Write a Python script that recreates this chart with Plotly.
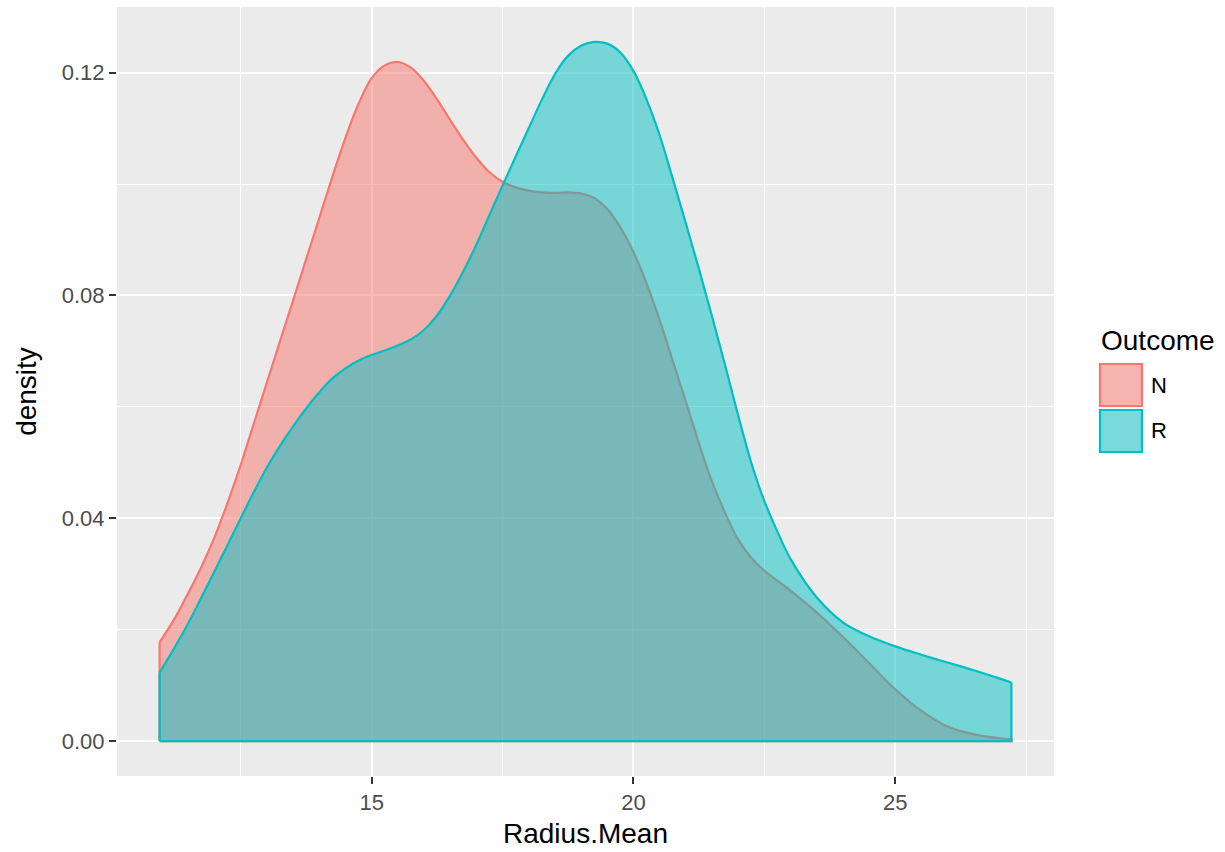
import plotly.graph_objects as go

# Kernel density estimates of Radius.Mean, one curve per outcome group
outcomes = ["N", "R"]
line_colors = ["#F8766D", "#00BFC4"]
fill_colors = ["rgba(248,118,109,0.5)", "rgba(0,191,196,0.5)"]

radius_n = [10.95, 11.25, 11.5, 11.75, 12.0, 12.25, 12.5, 12.75, 13.0, 13.25,
            13.5, 13.75, 14.0, 14.25, 14.5, 14.75, 15.0, 15.25, 15.5, 15.75,
            16.0, 16.25, 16.5, 16.75, 17.0, 17.25, 17.5, 17.75, 18.0, 18.25,
            18.5, 18.75, 19.0, 19.25, 19.5, 19.75, 20.0, 20.25, 20.5, 20.75,
            21.0, 21.25, 21.5, 21.75, 22.0, 22.25, 22.5, 23.0, 23.5, 24.0,
            24.5, 25.0, 25.5, 26.0, 26.5, 27.0, 27.22]
density_n = [0.0177, 0.0222, 0.0266, 0.0313, 0.0366, 0.0428, 0.0496, 0.0570, 0.0644, 0.0718,
             0.0791, 0.0865, 0.0939, 0.1013, 0.1083, 0.1144, 0.1190, 0.1213, 0.1219, 0.1209,
             0.1185, 0.1152, 0.1115, 0.1079, 0.1047, 0.1021, 0.1004, 0.0994, 0.0988, 0.0985,
             0.0984, 0.0985, 0.0983, 0.0975, 0.0955, 0.0922, 0.0878, 0.0822, 0.0756, 0.0683,
             0.0610, 0.0535, 0.0466, 0.0410, 0.0362, 0.0329, 0.0306, 0.0270, 0.0231, 0.0187,
             0.0140, 0.0093, 0.0054, 0.0026, 0.0012, 0.0005, 0.0003]

radius_r = [10.95, 11.25, 11.5, 11.75, 12.0, 12.25, 12.5, 12.75, 13.0, 13.25,
            13.5, 13.75, 14.0, 14.25, 14.5, 14.75, 15.0, 15.25, 15.5, 15.75,
            16.0, 16.25, 16.5, 16.75, 17.0, 17.25, 17.5, 17.75, 18.0, 18.25,
            18.5, 18.75, 19.0, 19.25, 19.5, 19.75, 20.0, 20.25, 20.5, 20.75,
            21.0, 21.25, 21.5, 21.75, 22.0, 22.25, 22.5, 22.75, 23.0, 23.5,
            24.0, 24.5, 25.0, 25.5, 26.0, 26.5, 27.0, 27.22]
density_r = [0.0123, 0.0170, 0.0212, 0.0258, 0.0305, 0.0352, 0.0400, 0.0447, 0.0491, 0.0530,
             0.0565, 0.0597, 0.0626, 0.0651, 0.0669, 0.0683, 0.0693, 0.0701, 0.0710, 0.0721,
             0.0738, 0.0764, 0.0800, 0.0843, 0.0891, 0.0944, 0.0997, 0.1049, 0.1100, 0.1151,
             0.1197, 0.1230, 0.1248, 0.1255, 0.1252, 0.1236, 0.1203, 0.1152, 0.1088, 0.1010,
             0.0930, 0.0848, 0.0763, 0.0675, 0.0585, 0.0500, 0.0431, 0.0376, 0.0327, 0.0258,
             0.0213, 0.0188, 0.0170, 0.0155, 0.0141, 0.0127, 0.0112, 0.0105]

x_major = [15, 20, 25]
x_minor = [12.5, 17.5, 22.5, 27.5]
y_major = [0.00, 0.04, 0.08, 0.12]
y_minor = [0.02, 0.06, 0.10]

series = [(radius_n, density_n), (radius_r, density_r)]

W, H = 1225, 852
ML, MR, MT, MB = 117, 171, 7, 76
PW, PH = W - ML - MR, H - MT - MB

fig = go.Figure()
for name, (xs, ys), lc, fc in zip(outcomes, series, line_colors, fill_colors):
    # smooth density curve with area fill down to zero
    fig.add_trace(go.Scatter(
        x=xs, y=ys, mode="lines", name=name, showlegend=False,
        line=dict(color=lc, width=2.2, shape="spline", smoothing=1.0),
        fill="tozeroy", fillcolor=fc, hoverinfo="skip",
    ))
    # closing edges of the density polygon: both vertical ends and the baseline
    fig.add_trace(go.Scatter(
        x=[xs[0], xs[0], None, xs[-1], xs[-1], xs[0]],
        y=[0, ys[0], None, ys[-1], 0, 0],
        mode="lines", showlegend=False, hoverinfo="skip",
        line=dict(color=lc, width=2.2),
    ))

all_x = radius_n + radius_r
all_y = density_n + density_r
xmin, xmax = min(all_x), max(all_x)
xpad = 0.05 * (xmax - xmin)
ymax = max(all_y)
ypad = 0.05 * ymax

tick_font = dict(family="Liberation Sans, Arial, sans-serif", size=22, color="#4D4D4D")
title_font = dict(family="Liberation Sans, Arial, sans-serif", size=28, color="black")

fig.update_layout(
    width=W, height=H,
    margin=dict(l=ML, r=MR, t=MT, b=MB),
    paper_bgcolor="white", plot_bgcolor="#EBEBEB",
    showlegend=False,
    xaxis=dict(
        range=[xmin - xpad, xmax + xpad],
        tickvals=x_major, ticktext=[str(v) for v in x_major],
        ticks="outside", ticklen=7, tickwidth=2, tickcolor="#333333",
        tickfont=tick_font,
        showgrid=True, gridcolor="white", gridwidth=2,
        minor=dict(tickvals=x_minor, showgrid=True, gridcolor="white", gridwidth=1, ticks=""),
        zeroline=False, showline=False,
        title=dict(text="Radius.Mean", font=title_font, standoff=8),
    ),
    yaxis=dict(
        range=[-ypad, ymax + ypad],
        tickvals=y_major, ticktext=[f"{v:.2f}" for v in y_major],
        ticks="outside", ticklen=7, tickwidth=2, tickcolor="#333333",
        tickfont=tick_font,
        showgrid=True, gridcolor="white", gridwidth=2,
        minor=dict(tickvals=y_minor, showgrid=True, gridcolor="white", gridwidth=1, ticks=""),
        zeroline=False, showline=False,
        title=dict(text="density", font=title_font, standoff=16),
    ),
)


def px(xp):
    return (xp - ML) / PW


def py(yp):
    return (MT + PH - yp) / PH


# legend: title, one filled key per outcome and its label
fig.add_annotation(
    x=px(1099), y=py(340), xref="paper", yref="paper",
    text="Outcome", showarrow=False, xanchor="left", yanchor="middle",
    font=title_font,
)
key_top = 363
key_size = 44
for i, (name, lc, fc) in enumerate(zip(outcomes, line_colors, fill_colors)):
    y0 = key_top + i * (key_size + 2)
    y1 = y0 + key_size
    fig.add_shape(type="rect", xref="paper", yref="paper",
                  x0=px(1099), x1=px(1099 + key_size), y0=py(y1), y1=py(y0),
                  fillcolor="#F2F2F2", line=dict(width=0))
    fig.add_shape(type="rect", xref="paper", yref="paper",
                  x0=px(1100), x1=px(1098 + key_size), y0=py(y1 - 1), y1=py(y0 + 1),
                  fillcolor=fc, line=dict(color=lc, width=2.2))
    fig.add_annotation(
        x=px(1149), y=py((y0 + y1) / 2), xref="paper", yref="paper",
        text=name, showarrow=False, xanchor="left", yanchor="middle",
        font=dict(family="Liberation Sans, Arial, sans-serif", size=22, color="black"),
    )

fig.write_html("out.html")
